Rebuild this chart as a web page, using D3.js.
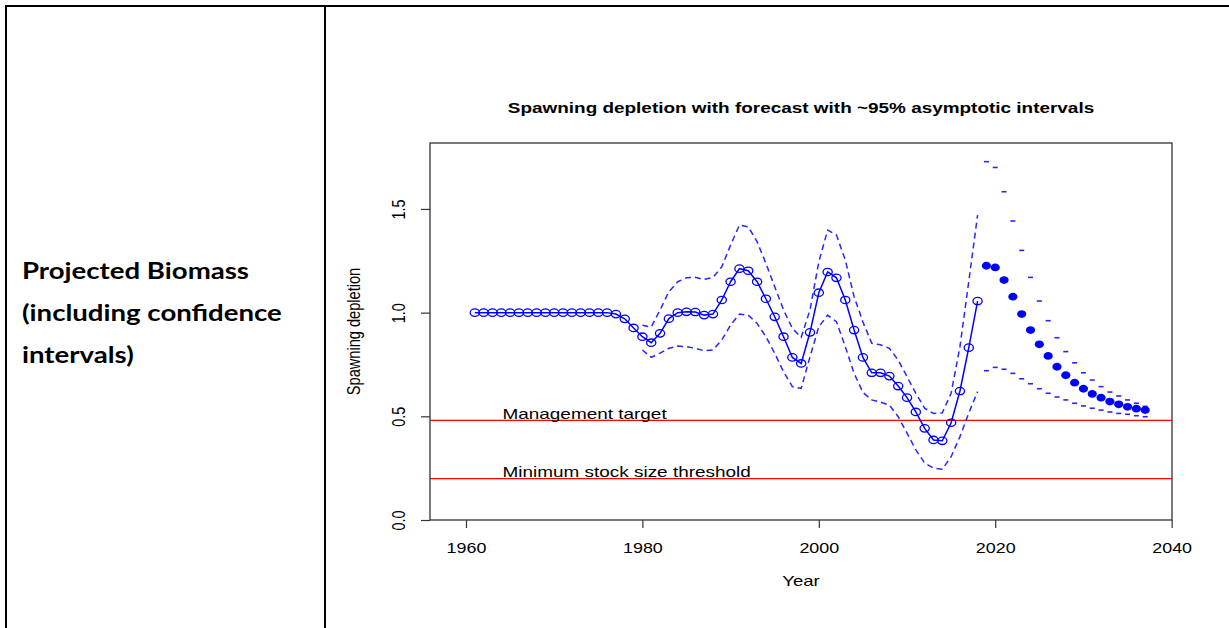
<!DOCTYPE html>
<html>
<head>
<meta charset="utf-8">
<script src="https://cdn.jsdelivr.net/npm/d3@7"></script>
<style>
  html, body { margin: 0; padding: 0; background: #fff; }
  svg { display: block; }
</style>
</head>
<body>
<svg id="chart" width="1229" height="628"></svg>
<script>
// ---------------- data ----------------
const histYears = d3.range(1961, 2019);
const histValues = [
  1.0, 1.0, 1.0, 1.0, 1.0, 1.0, 1.0, 1.0, 1.0, 1.0, 1.0, 1.0, 1.0, 1.0, 1.0, 1.0,
  0.993, 0.97, 0.926, 0.884, 0.855, 0.90, 0.971, 1.0, 1.004, 1.003, 0.988, 0.993,
  1.061, 1.149, 1.212, 1.202, 1.149, 1.067, 0.98, 0.884, 0.784, 0.755, 0.905,
  1.096, 1.196, 1.168, 1.061, 0.916, 0.784, 0.71, 0.71, 0.694, 0.646, 0.59,
  0.521, 0.442, 0.386, 0.382, 0.469, 0.622, 0.831, 1.056
];
const ciYears = d3.range(1980, 2019);
const ciUpper = [
  0.939, 0.93, 1.013, 1.101, 1.149, 1.168, 1.17, 1.16, 1.17, 1.221, 1.326, 1.422,
  1.414, 1.342, 1.238, 1.125, 1.013, 0.924, 0.881, 1.013, 1.245, 1.398, 1.374,
  1.254, 1.077, 0.955, 0.852, 0.845, 0.828, 0.771, 0.691, 0.611, 0.539, 0.514,
  0.517, 0.611, 0.836, 1.15, 1.47
];
const ciLower = [
  0.82, 0.784, 0.805, 0.828, 0.839, 0.836, 0.828, 0.816, 0.82, 0.868, 0.94, 0.993,
  0.988, 0.948, 0.884, 0.804, 0.715, 0.643, 0.635, 0.787, 0.932, 0.988, 0.956,
  0.836, 0.707, 0.615, 0.579, 0.569, 0.554, 0.498, 0.419, 0.338, 0.275, 0.25,
  0.245, 0.305, 0.402, 0.516, 0.619
];
const fcYears = d3.range(2019, 2038);
const fcValues = [
  1.226, 1.218, 1.157, 1.077, 0.993, 0.916, 0.847, 0.791, 0.739, 0.698, 0.662,
  0.633, 0.608, 0.59, 0.571, 0.558, 0.546, 0.537, 0.530
];
const fcUpper = [
  1.728, 1.70, 1.583, 1.442, 1.300, 1.170, 1.056, 0.961, 0.879, 0.812, 0.758,
  0.71, 0.675, 0.643, 0.617, 0.598, 0.579, 0.563, 0.548
];
const fcLower = [
  0.72, 0.736, 0.727, 0.707, 0.681, 0.657, 0.633, 0.611, 0.593, 0.579, 0.563,
  0.55, 0.539, 0.530, 0.521, 0.514, 0.51, 0.503, 0.498
];
const refLevels = [0.48, 0.2];
const refLabels = ["Management target", "Minimum stock size threshold"];
const xTicks = [1960, 1980, 2000, 2020, 2040];
const yTicks = [0.0, 0.5, 1.0, 1.5];
const titleText = "Spawning depletion with forecast with ~95% asymptotic intervals";
const xLabel = "Year";
const yLabel = "Spawning depletion";
const cellLines = ["Projected Biomass", "(including confidence", "intervals)"];

// ---------------- drawing ----------------
const svg = d3.select("#chart");
const SX = 1.28; // horizontal stretch of the embedded figure
const CELL_SX = 1.2; // horizontal stretch of the cell text
const BLUE = "#0000ff";
const FONT = "'Liberation Sans', Arial, sans-serif";

svg.append("rect").attr("width", 1229).attr("height", 628).attr("fill", "#fff");

// table borders
const tbl = svg.append("g").attr("stroke", "#000").attr("stroke-width", 2);
tbl.append("line").attr("x1", 5).attr("x2", 1229).attr("y1", 6).attr("y2", 6);
tbl.append("line").attr("x1", 6).attr("x2", 6).attr("y1", 5).attr("y2", 628);
tbl.append("line").attr("x1", 325).attr("x2", 325).attr("y1", 5).attr("y2", 628);

// left cell text
svg.append("g").selectAll("text").data(cellLines).join("text")
  .attr("transform", (d, i) => `translate(22,${279 + i * 42}) scale(${CELL_SX},1)`)
  .attr("font-family", "Lato, 'Open Sans', sans-serif")
  .attr("font-weight", "bold")
  .attr("font-size", 23)
  .attr("fill", "#000")
  .text(d => d);

// scales
const x = d3.scaleLinear().domain([1955.92, 2040.04]).range([430, 1172]);
const y = d3.scaleLinear().domain([0, 1.818]).range([520, 143]);

function stretchedText(g, px, py, str, size, weight, anchor, rotate) {
  const t = g.append("text")
    .attr("transform", `translate(${px},${py}) scale(${SX},1)` + (rotate ? ` rotate(${rotate})` : ""))
    .attr("font-family", FONT)
    .attr("font-size", size)
    .attr("text-anchor", anchor)
    .attr("fill", "#000")
    .text(str);
  if (weight) t.attr("font-weight", weight);
  return t;
}

// title
stretchedText(svg, 801, 113, titleText, 14.8, "bold", "middle");

// reference lines
svg.append("g").selectAll("line").data(refLevels).join("line")
  .attr("x1", 430).attr("x2", 1172)
  .attr("y1", d => y(d)).attr("y2", d => y(d))
  .attr("stroke", "#ff0000").attr("stroke-width", 1.2);
refLabels.forEach((lab, i) => {
  stretchedText(svg, 502.5, y(refLevels[i]) - 1.8, lab, 14.8, null, "start");
});

// axes
const xAxis = svg.append("g").attr("transform", "translate(0,520)")
  .call(d3.axisBottom(x).tickValues(xTicks).tickSize(8).tickFormat(d3.format("d")));
xAxis.select(".domain").remove();
xAxis.selectAll("line").attr("stroke", "#333").attr("stroke-width", 1.2);
xAxis.selectAll("text")
  .attr("y", null).attr("dy", null)
  .attr("transform", `translate(0,32.5) scale(${SX},1)`)
  .attr("font-family", FONT).attr("font-size", 14).attr("fill", "#000");

const yAxis = svg.append("g").attr("transform", "translate(430,0)")
  .call(d3.axisLeft(y).tickValues(yTicks).tickSize(9).tickFormat(d3.format(".1f")));
yAxis.select(".domain").remove();
yAxis.selectAll("line").attr("stroke", "#333").attr("stroke-width", 1.2);
yAxis.selectAll("text")
  .attr("x", null).attr("dy", null)
  .attr("text-anchor", "middle")
  .attr("transform", `translate(-25,0) scale(${SX},1) rotate(-90)`)
  .attr("font-family", FONT).attr("font-size", 14.4).attr("fill", "#000");

// axis titles
stretchedText(svg, 801, 586, xLabel, 14.5, null, "middle");
stretchedText(svg, 359.5, 331.5, yLabel, 14.6, null, "middle", -90);

// box
svg.append("rect").attr("x", 430).attr("y", 143).attr("width", 742).attr("height", 377)
  .attr("fill", "none").attr("stroke", "#333").attr("stroke-width", 1.3);

// CI dashed lines (historical)
const ciLine = d3.line().x(d => x(d[0])).y(d => y(d[1]));
[ciUpper, ciLower].forEach(arr => {
  svg.append("path")
    .datum(ciYears.map((yr, i) => [yr, arr[i]]))
    .attr("d", ciLine)
    .attr("fill", "none").attr("stroke", BLUE).attr("stroke-width", 1.5)
    .attr("stroke-dasharray", "6,4").attr("opacity", 0.85);
});

// main line
const mainData = histYears.map((yr, i) => [yr, histValues[i]]);
svg.append("path").datum(mainData).attr("d", ciLine)
  .attr("fill", "none").attr("stroke", BLUE).attr("stroke-width", 1.5);
svg.append("g").selectAll("ellipse").data(mainData).join("ellipse")
  .attr("cx", d => x(d[0])).attr("cy", d => y(d[1]))
  .attr("rx", 4.6).attr("ry", 3.7)
  .attr("fill", "none").attr("stroke", BLUE).attr("stroke-width", 1.3);

// forecast CI dashes
const fcCI = fcYears.flatMap((yr, i) => [[yr, fcUpper[i]], [yr, fcLower[i]]]);
svg.append("g").selectAll("line").data(fcCI).join("line")
  .attr("x1", d => x(d[0]) - 2.5).attr("x2", d => x(d[0]) + 2.5)
  .attr("y1", d => y(d[1])).attr("y2", d => y(d[1]))
  .attr("stroke", BLUE).attr("stroke-width", 1.6).attr("opacity", 0.85);

// forecast points
svg.append("g").selectAll("ellipse").data(fcYears.map((yr, i) => [yr, fcValues[i]])).join("ellipse")
  .attr("cx", d => x(d[0])).attr("cy", d => y(d[1]))
  .attr("rx", 4.6).attr("ry", 3.9)
  .attr("fill", BLUE);
</script>
</body>
</html>
